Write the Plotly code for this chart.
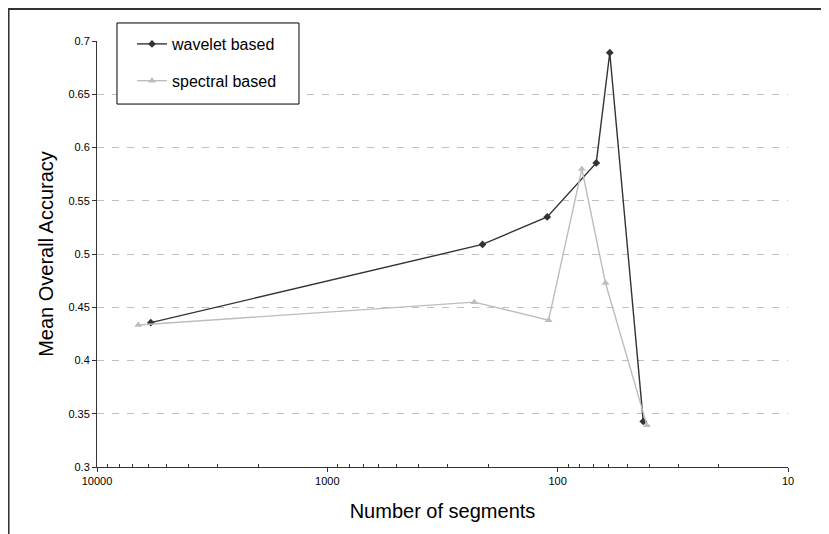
import plotly.graph_objects as go

# Data
wavelet_segments = [5840, 212, 111, 68, 59.4, 42.5]
wavelet_accuracy = [0.4355, 0.509, 0.5348, 0.5855, 0.689, 0.3428]

spectral_segments = [6620, 230, 109.5, 78.5, 62, 41]
spectral_accuracy = [0.4333, 0.4548, 0.4378, 0.5798, 0.4727, 0.3393]

x_tick_vals = [10000, 1000, 100, 10]
x_tick_text = ["10000", "1000", "100", "10"]
x_minor_vals = [m * d for d in (1000, 100, 10) for m in range(2, 10)]

FONT = "Liberation Sans, Arial, sans-serif"

fig = go.Figure()
fig.add_trace(go.Scatter(
    x=wavelet_segments, y=wavelet_accuracy, mode="lines+markers",
    name="wavelet based", legendgroup="w",
    line=dict(color="#333333", width=1.4),
    marker=dict(symbol="diamond", size=6, color="#333333"),
))
fig.add_trace(go.Scatter(
    x=spectral_segments, y=spectral_accuracy, mode="lines+markers",
    name="spectral based", legendgroup="s",
    line=dict(color="#bdbdbd", width=1.4),
    marker=dict(symbol="triangle-up", size=7, color="#bdbdbd"),
))

# outer frame (cropped at right and bottom in the reference)
fig.add_shape(type="path", xref="paper", yref="paper",
              path="M -0.128 -0.3 L -0.128 1.0751 L 1.2 1.0751",
              line=dict(color="#333333", width=2))
# legend box
fig.add_shape(type="rect", xref="paper", yref="paper",
              x0=0.0289, x1=0.2923, y0=0.852, y1=1.0423,
              fillcolor="white", line=dict(color="#000000", width=1),
              layer="above")

fig.update_layout(
    width=821, height=526,
    margin=dict(l=89, r=41, t=33, b=67, autoexpand=False),
    paper_bgcolor="white", plot_bgcolor="white",
    font=dict(family=FONT, color="#000000", size=11),
    showlegend=True,
    legend=dict(
        x=(132 - 97) / 691, y=1.0329, xanchor="left", yanchor="top",
        bgcolor="rgba(0,0,0,0)", borderwidth=0,
        font=dict(size=16, family=FONT, color="#000000"),
        tracegroupgap=13, itemwidth=30,
    ),
    xaxis=dict(
        type="log", range=[4, 1],
        tickvals=x_tick_vals, ticktext=x_tick_text,
        ticks="outside", ticklen=4, tickcolor="#333333", tickwidth=1,
        showline=True, linecolor="#333333", linewidth=1,
        showgrid=False, zeroline=False, automargin=False,
        tickfont=dict(size=11, color="#000000"),
        minor=dict(tickvals=x_minor_vals, ticks="inside", ticklen=3,
                   tickcolor="#333333", showgrid=False),
        title=dict(text="Number of segments", font=dict(size=20), standoff=17),
    ),
    yaxis=dict(
        range=[0.3, 0.7], dtick=0.05, tick0=0.3,
        ticks="outside", ticklen=4, tickcolor="#333333",
        showline=True, linecolor="#333333", linewidth=1,
        showgrid=True, gridcolor="#c0c0c0", gridwidth=1.2, griddash="7px,8px",
        zeroline=False, automargin=False,
        tickfont=dict(size=11, color="#000000"),
        title=dict(text="Mean Overall Accuracy", font=dict(size=20), standoff=9),
    ),
)

fig.write_html("out.html")
